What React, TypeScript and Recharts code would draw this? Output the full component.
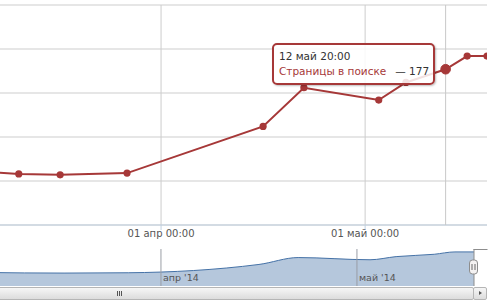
import React from 'react';
import {
  LineChart,
  Line,
  XAxis,
  YAxis,
  CartesianGrid,
  Tooltip,
  AreaChart,
  Area,
  ReferenceLine,
} from 'recharts';

// ---- data ----
const pointTimes = [
  Date.UTC(2014, 2, 5, 0),
  Date.UTC(2014, 2, 11, 2),
  Date.UTC(2014, 2, 17, 4),
  Date.UTC(2014, 2, 27, 0),
  Date.UTC(2014, 3, 16, 0),
  Date.UTC(2014, 3, 22, 0),
  Date.UTC(2014, 4, 3, 0),
  Date.UTC(2014, 4, 7, 0),
  Date.UTC(2014, 4, 12, 20),
  Date.UTC(2014, 4, 16, 0),
  Date.UTC(2014, 4, 18, 22),
];
const pagesInSearch = [61, 58, 57, 59, 112, 156, 142, 162, 177, 192, 192];
const seriesName = 'Страницы в поиске';
const monthNames = ['янв', 'фев', 'мар', 'апр', 'май', 'июн', 'июл', 'авг', 'сен', 'окт', 'ноя', 'дек'];
const mainTicks = [Date.UTC(2014, 3, 1), Date.UTC(2014, 4, 1)];
const navTicks = [Date.UTC(2014, 2, 1), Date.UTC(2014, 3, 1), Date.UTC(2014, 4, 1)];
const yTicks = [0, 50, 100, 150, 200, 250];
const hoverIndex = 8;
const mainViewStart = Date.UTC(2014, 2, 8, 7, 47);
const navViewStart = Date.UTC(2014, 2, 7, 8, 40);

const data = pointTimes.map((t, i) => ({ t, v: pagesInSearch[i] }));

const SERIES = '#a63838';
const GRID = '#cdcdcd';
const FONT = '"DejaVu Sans", Verdana, sans-serif';

const pad = (n: number) => (n < 10 ? '0' + n : '' + n);
const fmtDate = (ts: number) => {
  const d = new Date(ts);
  return `${pad(d.getUTCDate())} ${monthNames[d.getUTCMonth()]} ${pad(d.getUTCHours())}:${pad(d.getUTCMinutes())}`;
};
const fmtDateShort = (ts: number) => {
  const d = new Date(ts);
  return `${d.getUTCDate()} ${monthNames[d.getUTCMonth()]} ${pad(d.getUTCHours())}:${pad(d.getUTCMinutes())}`;
};
const fmtMonth = (ts: number) => {
  const d = new Date(ts);
  return `${monthNames[d.getUTCMonth()]} '${String(d.getUTCFullYear()).slice(2)}`;
};

const TooltipBox = (props: any) => {
  const { payload } = props;
  const p = payload && payload.length ? payload[0].payload : data[hoverIndex];
  return (
    <div
      style={{
        boxSizing: 'border-box',
        width: 163,
        height: 42,
        background: 'rgba(255,255,255,0.85)',
        border: `2px solid ${SERIES}`,
        borderRadius: 5,
        padding: '4px 6px 4px 5px',
        fontFamily: FONT,
        fontSize: 10.5,
        lineHeight: '15px',
        color: '#333',
        boxShadow: '1px 1px 2px rgba(0,0,0,0.25)',
        whiteSpace: 'nowrap',
      }}
    >
      <div>{fmtDateShort(p.t)}</div>
      <div>
        <span style={{ color: SERIES }}>{seriesName}</span>
        <span style={{ marginLeft: 9 }}>— {p.v}</span>
      </div>
    </div>
  );
};

const HandleLabel = (props: any) => {
  const vb = props.viewBox || {};
  const x = Math.round(vb.x) - 0.5;
  return (
    <g>
      <line x1={x} y1={0.5} x2={x + 14} y2={0.5} stroke="#8d8d8d" strokeWidth={1} />
      <rect x={x - 4} y={11} width={8} height={14} rx={3} ry={3} fill="#f4f2f2" stroke="#8d8d8d" strokeWidth={1} />
      <line x1={x - 1.5} y1={15} x2={x - 1.5} y2={21} stroke="#666" strokeWidth={1} />
      <line x1={x + 1.5} y1={15} x2={x + 1.5} y2={21} stroke="#666" strokeWidth={1} />
    </g>
  );
};

const MainDot = (props: any) => {
  const { cx, cy, index } = props;
  if (cx == null || cy == null) return <g key={index} />;
  return <circle key={index} cx={cx} cy={cy} r={3.6} fill={SERIES} stroke="none" />;
};

export default function App() {
  const lastTs = pointTimes[pointTimes.length - 1];
  return (
    <div
      style={{
        position: 'absolute',
        left: 0,
        top: 0,
        width: 500,
        height: 303,
        overflow: 'hidden',
        background: '#fff',
      }}
    >
      <div style={{ position: 'absolute', left: 0, top: 0 }}>
        <LineChart width={500} height={245} data={data} margin={{ top: 5, right: 13, bottom: 0, left: 0 }}>
          <CartesianGrid stroke={GRID} strokeWidth={1} vertical={false} />
          {mainTicks.map((ts) => (
            <ReferenceLine key={ts} x={ts} stroke={GRID} strokeWidth={1} />
          ))}
          <XAxis
            dataKey="t"
            type="number"
            domain={[mainViewStart, 'dataMax']}
            allowDataOverflow
            ticks={mainTicks}
            interval={0}
            tickFormatter={fmtDate}
            tick={{ fill: '#555', fontSize: 10, fontFamily: FONT }}
            tickLine={{ stroke: '#C0D0E0' }}
            axisLine={{ stroke: '#C0D0E0' }}
            tickSize={5}
            tickMargin={0}
            height={20}
          />
          <YAxis hide type="number" domain={[0, 250]} ticks={yTicks} />
          <Tooltip
            active={true}
            defaultIndex={hoverIndex}
            position={{ x: 272, y: 43 }}
            content={<TooltipBox />}
            cursor={{ stroke: '#c8c8c8', strokeWidth: 1 }}
            isAnimationActive={false}
            wrapperStyle={{ outline: 'none' }}
          />
          <Line
            dataKey="v"
            type="linear"
            stroke={SERIES}
            strokeWidth={2}
            dot={(p: any) => <MainDot {...p} />}
            activeDot={{ r: 4.8, fill: SERIES, stroke: SERIES, strokeWidth: 1 }}
            isAnimationActive={false}
          />
        </LineChart>
      </div>

      <div style={{ position: 'absolute', left: 0, top: 249 }}>
        <AreaChart width={500} height={37} data={data} margin={{ top: 0, right: 26, bottom: 0, left: 0 }}>
          <XAxis dataKey="t" type="number" domain={[navViewStart, 'dataMax']} allowDataOverflow hide />
          <YAxis hide type="number" domain={[-25.5, 210.6]} allowDataOverflow />
          <Area
            dataKey="v"
            type="monotone"
            stroke="#4572A7"
            strokeWidth={1}
            fill="#4572A7"
            fillOpacity={0.4}
            baseValue="dataMin"
            dot={false}
            activeDot={false}
            isAnimationActive={false}
          />
          {navTicks.map((ts) => (
            <ReferenceLine
              key={ts}
              x={ts}
              stroke="#9a9ea6"
              strokeWidth={1}
              ifOverflow="visible"
              label={{
                value: fmtMonth(ts),
                position: 'insideBottomLeft',
                offset: 2,
                dy: -3,
                fill: '#555',
                fontSize: 9.5,
                fontFamily: FONT,
              }}
            />
          ))}
          <ReferenceLine x={lastTs} stroke="#8d8d8d" strokeWidth={1} ifOverflow="visible" label={<HandleLabel />} />
        </AreaChart>
      </div>

      {/* scrollbar */}
      <div
        style={{
          position: 'absolute',
          left: -2,
          top: 287,
          width: 476,
          height: 13,
          boxSizing: 'border-box',
          border: '1px solid #b5b5b5',
          borderRadius: 2,
          background: 'linear-gradient(#f6f6f6, #dcdcdc)',
        }}
      >
        <div style={{ position: 'absolute', left: 118, top: 3, width: 1, height: 5, background: '#555' }} />
        <div style={{ position: 'absolute', left: 120, top: 3, width: 1, height: 5, background: '#555' }} />
        <div style={{ position: 'absolute', left: 122, top: 3, width: 1, height: 5, background: '#555' }} />
      </div>
      <div
        style={{
          position: 'absolute',
          left: 473,
          top: 287,
          width: 14,
          height: 13,
          boxSizing: 'border-box',
          border: '1px solid #b5b5b5',
          borderRadius: 2,
          background: 'linear-gradient(#f6f6f6, #dcdcdc)',
        }}
      >
        <div
          style={{
            position: 'absolute',
            left: 5,
            top: 3,
            width: 0,
            height: 0,
            borderTop: '2.5px solid transparent',
            borderBottom: '2.5px solid transparent',
            borderLeft: '3px solid #555',
          }}
        />
      </div>
    </div>
  );
}
